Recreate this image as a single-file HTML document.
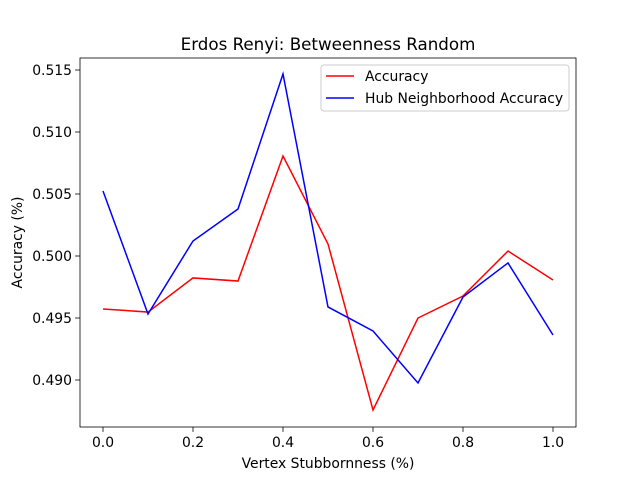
<!DOCTYPE html>
<html><head><meta charset="utf-8"><style>
body{margin:0;background:#fff;font-family:"DejaVu Sans","Liberation Sans",sans-serif;}
</style></head><body>
<svg id="chart" width="640" height="480" xmlns="http://www.w3.org/2000/svg">
<rect width="640" height="480" fill="#fff"/>
<text x="328" y="50" text-anchor="middle" font-size="16.7">Erdos Renyi: Betweenness Random</text>
<g id="plot"></g>
<text x="328" y="468" text-anchor="middle" font-size="13.9">Vertex Stubbornness (%)</text>
<text transform="translate(22,242.5) rotate(-90)" text-anchor="middle" font-size="13.9">Accuracy (%)</text>
</svg>
<script>
const xValues=[0,0.1,0.2,0.3,0.4,0.5,0.6,0.7,0.8,0.9,1.0];
const accuracy=[0.49573,0.49548,0.49823,0.49798,0.50806,0.50097,0.48758,0.49500,0.49677,0.50040,0.49806];
const hubAccuracy=[0.50524,0.49532,0.50121,0.50379,0.51468,0.49589,0.49395,0.48976,0.49669,0.49944,0.49363];
const xTicks=[0,0.2,0.4,0.6,0.8,1.0];
const xTickLabels=["0.0","0.2","0.4","0.6","0.8","1.0"];
const yTicks=[0.490,0.495,0.500,0.505,0.510,0.515];
const yTickLabels=["0.490","0.495","0.500","0.505","0.510","0.515"];

const NS="http://www.w3.org/2000/svg";
const L=80,R=576,T=58,B=427;
const xs=v=>103+v*450;
const ys=v=>70+(0.515-v)*12400;
const g=document.getElementById('plot');
function mk(t,a){const e=document.createElementNS(NS,t);for(const k in a)e.setAttribute(k,a[k]);g.appendChild(e);return e;}
xTicks.forEach((v,i)=>{
  const l=mk('line',{x1:xs(v),x2:xs(v),y1:B,y2:B+4.9,stroke:'#000','stroke-width':0.8});
  
  
  const t=mk('text',{x:xs(v),y:B+20,'text-anchor':'middle','font-size':13.9});
  t.textContent=xTickLabels[i];
  
  
});
yTicks.forEach((v,i)=>{
  const l=mk('line',{x1:L-4.9,x2:L,y1:ys(v),y2:ys(v),stroke:'#000','stroke-width':0.8});
  
  
  const t=mk('text',{x:L-8,y:ys(v)+5,'text-anchor':'end','font-size':13.9});
  t.textContent=yTickLabels[i];
  
  
});
function line(vals,color,name){
  const p=mk('polyline',{points:vals.map((v,i)=>xs(xValues[i])+','+ys(v)).join(' '),fill:'none',stroke:color,'stroke-width':1.5});
  
  
}
line(accuracy,'#ff0000','accuracy-line');
line(hubAccuracy,'#0000ff','hub-neighborhood-accuracy-line');
const fr=mk('rect',{x:L,y:T,width:R-L,height:B-T,fill:'none',stroke:'#000','stroke-width':0.8});


const lg=mk('rect',{x:321,y:65,width:248,height:46,rx:3,fill:'#fff','fill-opacity':0.8,stroke:'#ccc','stroke-width':1});


[['Accuracy','#ff0000',76],['Hub Neighborhood Accuracy','#0000ff',98]].forEach(([n,c,y])=>{
  const l=mk('line',{x1:326,x2:354,y1:y,y2:y,stroke:c,'stroke-width':1.5});
  
  
  const t=mk('text',{x:365,y:y+5,'font-size':13.9});
  t.textContent=n;
  
  
});
</script>
</body></html>
